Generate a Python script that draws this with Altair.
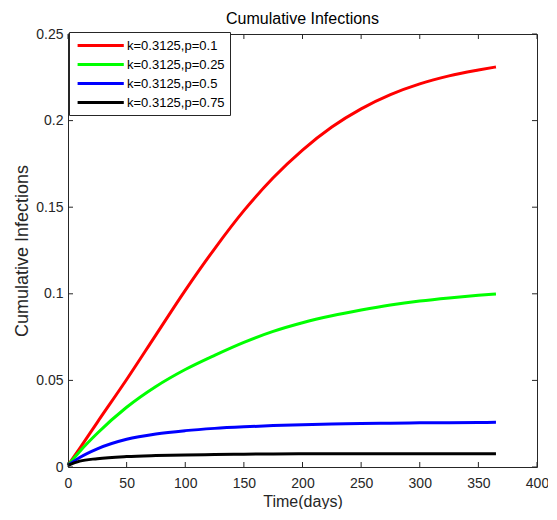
import altair as alt
import pandas as pd

days = [0, 10, 25, 50, 75, 100, 125, 150, 175, 200, 225, 250, 275, 300, 325, 350, 365]
red = [0.001, 0.0108, 0.0258, 0.0505, 0.0763, 0.102, 0.126, 0.148, 0.167, 0.183, 0.1963, 0.2068, 0.2150, 0.2212, 0.2258, 0.2292, 0.2310]
green = [0.001, 0.0090, 0.0195, 0.0345, 0.0465, 0.0563, 0.0645, 0.0720, 0.0783, 0.0833, 0.0873, 0.0906, 0.0935, 0.0958, 0.0976, 0.0991, 0.0999]
blue = [0.001, 0.0055, 0.0105, 0.0160, 0.0191, 0.0210, 0.0223, 0.0232, 0.0239, 0.0244, 0.0248, 0.0251, 0.0253, 0.0255, 0.0256, 0.0257, 0.0258]
black = [0.001, 0.0034, 0.0048, 0.0060, 0.0066, 0.0070, 0.0072, 0.0074, 0.0075, 0.0076, 0.00765, 0.0077, 0.0077, 0.0077, 0.0077, 0.0077, 0.0077]

series_names = ["k=0.3125,p=0.1", "k=0.3125,p=0.25", "k=0.3125,p=0.5", "k=0.3125,p=0.75"]
colors = ["#ff0000", "#00ff00", "#0000ff", "#000000"]
x_ticks = [0, 50, 100, 150, 200, 250, 300, 350, 400]
y_ticks = [0, 0.05, 0.1, 0.15, 0.2, 0.25]

rows = []
for name, vals in zip(series_names, [red, green, blue, black]):
    for d, v in zip(days, vals):
        rows.append({"day": d, "value": v, "series": name})
df = pd.DataFrame(rows)
xt = pd.DataFrame({"day": x_ticks})
yt = pd.DataFrame({"value": y_ticks})

W, H = 469, 433
FONT = "Liberation Sans"
TXT = "#262626"

xscale = alt.Scale(domain=[0, 400], nice=False, zero=False)
yscale = alt.Scale(domain=[0, 0.25], nice=False, zero=False)
xaxis = alt.Axis(values=x_ticks, title="Time(days)", format="d", labelFlush=False)
yaxis = alt.Axis(values=y_ticks, title="Cumulative Infections", format="~g", labelFlush=False)

lines = alt.Chart(df).mark_line(strokeWidth=3, interpolate="monotone").encode(
    x=alt.X("day:Q", scale=xscale, axis=xaxis),
    y=alt.Y("value:Q", scale=yscale, axis=yaxis),
    color=alt.Color(
        "series:N",
        scale=alt.Scale(domain=series_names, range=colors),
        legend=alt.Legend(
            title=None,
            orient="none",
            legendX=1,
            legendY=-2,
            symbolType="M-0.7,0H5.9",
            symbolSize=196,
            symbolStrokeWidth=3,
            labelOffset=36,
            labelFontSize=13,
            labelFont=FONT,
            labelColor="#000000",
            rowPadding=3,
            padding=5,
            strokeColor="#262626",
            fillColor="#ffffff",
        ),
    ),
    order=alt.Order("day:Q"),
)

tick_len = 5
xb = alt.Chart(xt).mark_rule(color=TXT, strokeWidth=1).encode(
    x=alt.X("day:Q", scale=xscale, axis=xaxis), y=alt.value(H), y2=alt.value(H - tick_len))
xtop = alt.Chart(xt).mark_rule(color=TXT, strokeWidth=1).encode(
    x=alt.X("day:Q", scale=xscale, axis=xaxis), y=alt.value(0), y2=alt.value(tick_len))
yl = alt.Chart(yt).mark_rule(color=TXT, strokeWidth=1).encode(
    y=alt.Y("value:Q", scale=yscale, axis=yaxis), x=alt.value(0), x2=alt.value(tick_len))
yr = alt.Chart(yt).mark_rule(color=TXT, strokeWidth=1).encode(
    y=alt.Y("value:Q", scale=yscale, axis=yaxis), x=alt.value(W), x2=alt.value(W - tick_len))

chart = alt.layer(lines, xb, xtop, yl, yr).properties(
    width=W,
    height=H,
    title=alt.TitleParams("Cumulative Infections", font=FONT, fontSize=16, fontWeight="normal", color="#000000", offset=0),
    autosize=alt.AutoSizeParams(type="none"),
    padding={"left": 60, "top": 26, "right": 11, "bottom": 42},
).configure_view(stroke=TXT, strokeWidth=1).configure_axis(
    grid=False, ticks=False, domain=False,
    labelFont=FONT, labelFontSize=14, labelColor=TXT,
    titleFont=FONT, titleColor=TXT, titleFontWeight="normal",
).configure_axisX(labelPadding=9, titleFontSize=16, titlePadding=3).configure_axisY(
    labelPadding=5, titleFontSize=18, titlePadding=4)

chart.save("out.html", embed_options={"renderer": "svg", "actions": False})
